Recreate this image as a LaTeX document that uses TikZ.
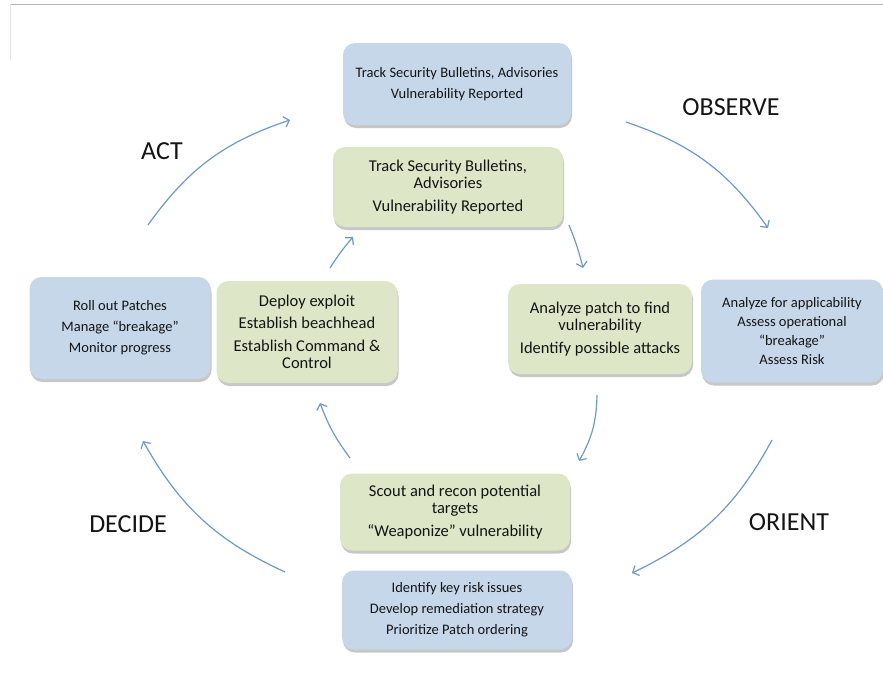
\documentclass[tikz,border=0pt]{standalone}
\usepackage{fontspec}
\setmainfont{Carlito}
\usetikzlibrary{arrows.meta,shadows}

\definecolor{boxblue}{RGB}{199,215,234}
\definecolor{boxgreen}{RGB}{222,230,200}
\definecolor{loopline}{RGB}{108,152,208}
\definecolor{inktext}{RGB}{20,20,20}

\tikzset{
  card/.style={rounded corners=12pt, draw=none, align=center, text=inktext, inner sep=0pt,
    drop shadow={shadow xshift=1pt, shadow yshift=-3pt, fill=black, opacity=0.22}},
  defbox/.style={card, fill=boxblue, font=\fontsize{14.5}{21}\selectfont},
  atkbox/.style={card, fill=boxgreen, font=\fontsize{16.5}{17.5}\selectfont},
  loopto/.style={draw=loopline, line width=1.2pt, -{Straight Barb[length=5pt,width=11pt]}},
  phase/.style={font=\fontsize{26}{30}\selectfont, text=inktext}
}

\begin{document}
\begin{tikzpicture}[x=1pt,y=-1pt]
  \useasboundingbox (0,0) rectangle (883,672);
  \draw[black!30] (10,4) -- (883,4);
  \draw[black!10] (10,4) -- (10,60);

  % defender boxes
  \node[defbox, minimum width=228, minimum height=82] (defObs) at (457,84)
    {Track Security Bulletins, Advisories\\Vulnerability Reported};
  \node[defbox, minimum width=182, minimum height=103, font=\fontsize{14.5}{19}\selectfont] (defOri) at (792,331)
    {Analyze for applicability\\Assess operational\\“breakage”\\Assess Risk};
  \node[defbox, minimum width=230, minimum height=79] (defDec) at (457,610)
    {Identify key risk issues\\Develop remediation strategy\\Prioritize Patch ordering};
  \node[defbox, minimum width=181, minimum height=102] (defAct) at (120,328)
    {Roll out Patches\\Manage “breakage”\\Monitor progress};

  % attacker boxes
  \node[atkbox, minimum width=230, minimum height=80] (atkObs) at (448,187)
    {Track Security Bulletins,\\Advisories\\[5pt]Vulnerability Reported};
  \node[atkbox, minimum width=184, minimum height=90] (atkOri) at (600,329)
    {Analyze patch to find\\vulnerability\\[5pt]Identify possible attacks};
  \node[atkbox, minimum width=230, minimum height=77] (atkDec) at (455,512)
    {Scout and recon potential\\targets\\[5pt]“Weaponize” vulnerability};
  \node[atkbox, minimum width=181, minimum height=102] (atkAct) at (307,332)
    {Deploy exploit\\[5pt]Establish beachhead\\[5pt]Establish Command \&\\Control};

  % phase names
  \node[phase] (actLbl) at (162,151) {ACT};
  \node[phase] (obsLbl) at (731,107) {OBSERVE};
  \node[phase] (oriLbl) at (789,522) {ORIENT};
  \node[phase] (decLbl) at (128,524) {DECIDE};

  % outer loop
  \coordinate (actS) at (148,225);  \coordinate (actE) at (290,120);
  \coordinate (obsS) at (626,122);  \coordinate (obsE) at (768,228);
  \coordinate (oriS) at (772,440);  \coordinate (oriE) at (632,573);
  \coordinate (decS) at (285,572);  \coordinate (decE) at (143,441);
  \draw[loopto] (actS) to[bend left=18] (actE);
  \draw[loopto] (obsS) to[bend left=18] (obsE);
  \draw[loopto] (oriS) to[bend left=18] (oriE);
  \draw[loopto] (decS) to[bend left=18] (decE);

  % inner loop
  \coordinate (inA) at (569,225);  \coordinate (inB) at (583,268);
  \coordinate (inC) at (597,395);  \coordinate (inD) at (579,461);
  \coordinate (inE) at (350,458);  \coordinate (inF) at (320,403);
  \coordinate (inG) at (330,268);  \coordinate (inH) at (353,237);
  \draw[loopto] (inA) to[bend left=4] (inB);
  \draw[loopto] (inC) to[bend left=14] (inD);
  \draw[loopto] (inE) to[bend left=8] (inF);
  \draw[loopto] (inG) to[bend left=4] (inH);
\end{tikzpicture}
\end{document}
